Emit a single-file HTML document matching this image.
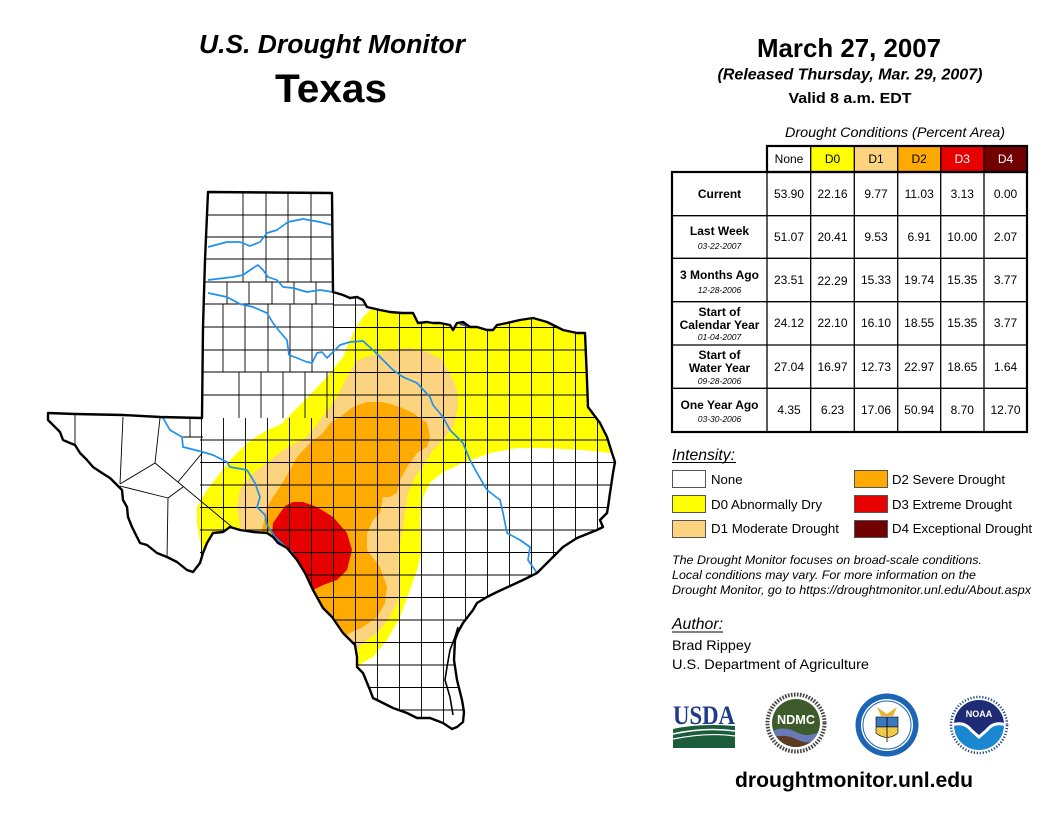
<!DOCTYPE html>
<html><head><meta charset="utf-8"><style>
html,body{margin:0;padding:0;background:#fff;}
svg{display:block;}
text{font-family:"Liberation Sans",Arial,sans-serif;}
</style></head><body>
<svg width="1056" height="816" viewBox="0 0 1056 816" xmlns="http://www.w3.org/2000/svg">
<defs>
<clipPath id="tx"><path id="txp" d="M48,413 L75,414 L123,415 L160,417 L202,418 L203,327 L205,260 L208,192 L332,193 L333,292 L343,295 L350,298 L357,297 L363,300 L367,307 L380,310 L390,312 L402,313 L413,313 L418,323 L427,322 L433,323 L440,323 L450,325 L453,330 L457,323 L463,322 L470,327 L477,327 L487,330 L493,330 L497,325 L507,323 L520,320 L533,318 L547,322 L557,327 L563,330 L577,333 L585,333 L587,380 L588,407 L600,423 L607,437 L612,453 L615,462 L613,473 L610,493 L608,507 L607,513 L600,520 L603,527 L597,530 L577,538 L563,547 L550,560 L537,573 L523,580 L510,586 L497,592 L487,597 L477,603 L473,610 L463,623 L458,632 L455,640 L454,660 L457,680 L462,700 L464,712 L463,722 L457,727 L452,729 L443,723 L430,718 L417,718 L407,713 L393,708 L383,703 L373,698 L370,690 L363,673 L357,667 L357,657 L355,645 L350,640 L343,633 L332,617 L323,608 L313,590 L305,573 L297,560 L287,548 L278,543 L273,537 L267,533 L253,532 L240,530 L230,527 L223,532 L213,533 L207,543 L203,553 L200,563 L193,572 L187,570 L177,562 L167,557 L157,553 L147,545 L140,543 L137,537 L132,527 L128,517 L127,507 L123,500 L122,490 L117,485 L110,478 L102,473 L93,467 L87,460 L80,453 L75,445 L70,443 L63,440 L60,432 L53,425 L48,420 Z"/></clipPath>
<pattern id="cty" x="333" y="282" width="22" height="22.5" patternUnits="userSpaceOnUse"><path d="M0,0.5H22M0.5,0V22.5" stroke="#000" stroke-width="0.9" fill="none"/></pattern>
<clipPath id="ndc"><circle cx="796" cy="723" r="24"/></clipPath>
<clipPath id="noc"><circle cx="979" cy="725" r="25"/></clipPath>
</defs>

<!-- Titles -->
<text x="332" y="53" font-size="25.5" font-weight="bold" font-style="italic" text-anchor="middle" textLength="266" lengthAdjust="spacingAndGlyphs">U.S. Drought Monitor</text>
<text x="331" y="102" font-size="40" font-weight="bold" text-anchor="middle" textLength="112" lengthAdjust="spacingAndGlyphs">Texas</text>
<text x="849" y="57" font-size="26" font-weight="bold" text-anchor="middle" textLength="184" lengthAdjust="spacingAndGlyphs">March 27, 2007</text>
<text x="850" y="79.5" font-size="15.5" font-weight="bold" font-style="italic" text-anchor="middle" textLength="265" lengthAdjust="spacingAndGlyphs">(Released Thursday, Mar. 29, 2007)</text>
<text x="850" y="103" font-size="15" font-weight="bold" text-anchor="middle" textLength="123" lengthAdjust="spacingAndGlyphs">Valid 8 a.m. EDT</text>

<!-- Map -->
<g clip-path="url(#tx)">
<rect x="0" y="180" width="640" height="560" fill="#fff"/>
<path fill="#FFFF00" d="M203,600 L203,560 L197,523 L197,507 L207,490 L220,473 L233,457 L247,443 L267,430 L280,425 L305,400 L327,377 L343,357 L353,333 L363,317 L375,305 L380,270 L660,270 L660,453 L610,453 L583,450 L543,448 L517,448 L490,453 L463,463 L443,472 L430,483 L423,497 L420,520 L422,550 L417,570 L410,590 L400,617 L387,640 L373,657 L362,663 L340,690 L200,700 Z"/>
<path fill="#FCD37F" d="M240,560 L240,527 L237,507 L240,490 L253,473 L267,463 L283,450 L307,437 L320,420 L330,407 L337,397 L347,377 L357,360 L373,355 L390,350 L410,348 L427,352 L440,358 L450,373 L457,390 L458,407 L453,427 L443,440 L433,450 L425,463 L415,477 L408,493 L405,513 L402,533 L398,547 L398,567 L400,583 L397,603 L388,620 L377,633 L363,643 L357,650 L340,665 L240,610 Z"/>
<path fill="#FFAA00" d="M262,560 L262,530 L267,507 L273,497 L280,487 L290,470 L297,457 L310,443 L323,433 L330,423 L340,417 L353,407 L367,402 L383,402 L400,407 L413,413 L427,423 L430,437 L427,447 L417,453 L407,467 L400,480 L397,493 L390,497 L383,497 L380,513 L373,520 L367,533 L367,550 L380,567 L387,587 L385,603 L377,617 L363,627 L350,633 L330,645 L262,605 Z"/>
<path fill="#E60000" d="M270,560 L273,523 L280,513 L285,506 L293,502 L303,502 L317,507 L333,517 L347,533 L352,550 L347,570 L337,580 L323,585 L313,590 L300,600 Z"/>
<rect x="333" y="280" width="290" height="460" fill="url(#cty)"/>
<rect x="200" y="418" width="133" height="322" fill="url(#cty)"/>
<g stroke="#000" stroke-width="0.9" fill="none">
<path d="M203,215H333M203,237H333M203,259H333M203,282H333M203,304H333M203,327H333M203,350H333M203,372H333M203,395H333"/>
<path d="M243,192V282M266,192V282M288,192V282M311,192V282"/>
<path d="M227,282V304M249,282V304M272,282V304M294,282V304M316,282V304"/>
<path d="M223,304V372M245,304V372M268,304V372M290,304V372M312,304V372"/>
<path d="M239,372V418M261,372V418M283,372V418M305,372V418M327,372V418"/>
<path d="M75,415L75,445M123,417L120,484M160,418L155,463M155,463L120,484M155,463L232,527M178,482L203,452M120,486L168,498M168,498L183,487M168,498L167,558M190,418L190,437M183,437L203,437"/>
</g>
<path d="M458,319 L465,317 L470,321 L477,320 L476,326 L468,327 L460,325 Z" fill="#3050c8"/>
<g stroke="#1E90F0" stroke-width="1.7" fill="none" stroke-linejoin="round">
<path d="M208,247 L227,242 L240,242 L250,246 L260,242 L267,233 L277,230 L288,222 L303,219 L320,222 L332,225"/>
<path d="M208,280 L233,277 L243,275 L253,268 L258,265 L263,270 L268,277 L277,280 L283,287 L293,288 L307,292 L320,290 L333,292"/>
<path d="M208,293 L227,297 L240,304 L253,307 L267,313 L273,323 L280,332 L287,340 L289,355 L297,358 L307,362 L312,363 L317,353 L322,352 L327,358 L333,352 L340,345 L350,342 L363,341 L373,350 L383,360 L393,370 L403,377 L417,383 L430,397 L433,405 L443,417 L450,430 L463,443 L470,460 L477,473 L487,490 L500,500 L503,513 L507,533 L520,540 L530,547 L528,560 L537,573"/>
<path d="M163,418 L170,430 L182,437 L183,447 L203,452 L213,455 L227,462 L230,467 L247,470 L255,483 L260,497 L257,507 L265,515 L267,525 L275,537 L287,548 L293,553"/>
</g>
</g>
<use href="#txp" fill="none" stroke="#000" stroke-width="2.4" stroke-linejoin="round"/>
<path d="M458,627 L455,637 L450,650 L447,667 L445,680 L450,697 L453,715" fill="none" stroke="#000" stroke-width="1.6"/>

<!-- Table -->
<text x="895" y="137" font-size="13.5" font-style="italic" text-anchor="middle" textLength="220" lengthAdjust="spacingAndGlyphs">Drought Conditions (Percent Area)</text>
<rect x="767" y="146" width="43.7" height="26" fill="#fff"/>
<rect x="810.7" y="146" width="43.6" height="26" fill="#FFFF00"/>
<rect x="854.3" y="146" width="43.4" height="26" fill="#FCD37F"/>
<rect x="897.7" y="146" width="43" height="26" fill="#FFAA00"/>
<rect x="940.7" y="146" width="43.3" height="26" fill="#E60000"/>
<rect x="984" y="146" width="43" height="26" fill="#730000"/>
<g stroke="#000" fill="none">
<rect x="767" y="146" width="260" height="26" stroke-width="2.2"/>
<rect x="672" y="172" width="355" height="260" stroke-width="2.2"/>
<path stroke-width="1.3" d="M810.7,146V432M854.3,146V432M897.7,146V432M940.7,146V432M984,146V432M767,172V432M672,215.7H1027M672,258.3H1027M672,301.7H1027M672,345H1027M672,388.3H1027"/>
</g>
<g font-size="12" text-anchor="middle">
<text x="789" y="163">None</text><text x="832.5" y="163">D0</text><text x="876" y="163">D1</text><text x="919.2" y="163">D2</text><text x="962.3" y="163" fill="#fff">D3</text><text x="1005.5" y="163" fill="#fff">D4</text>
<text x="789" y="198">53.90</text><text x="832.5" y="198">22.16</text><text x="876" y="198">9.77</text><text x="919.2" y="198">11.03</text><text x="962.3" y="198">3.13</text><text x="1005.5" y="198">0.00</text>
<text x="789" y="241">51.07</text><text x="832.5" y="241">20.41</text><text x="876" y="241">9.53</text><text x="919.2" y="241">6.91</text><text x="962.3" y="241">10.00</text><text x="1005.5" y="241">2.07</text>
<text x="789" y="284">23.51</text><text x="832.5" y="285">22.29</text><text x="876" y="284">15.33</text><text x="919.2" y="284">19.74</text><text x="962.3" y="284">15.35</text><text x="1005.5" y="284">3.77</text>
<text x="789" y="327">24.12</text><text x="832.5" y="327">22.10</text><text x="876" y="327">16.10</text><text x="919.2" y="327">18.55</text><text x="962.3" y="327">15.35</text><text x="1005.5" y="327">3.77</text>
<text x="789" y="371">27.04</text><text x="832.5" y="371">16.97</text><text x="876" y="371">12.73</text><text x="919.2" y="371">22.97</text><text x="962.3" y="371">18.65</text><text x="1005.5" y="371">1.64</text>
<text x="789" y="414">4.35</text><text x="832.5" y="414">6.23</text><text x="876" y="414">17.06</text><text x="919.2" y="414">50.94</text><text x="962.3" y="414">8.70</text><text x="1005.5" y="414">12.70</text>
</g>
<g font-size="12" font-weight="bold" text-anchor="middle">
<text x="719.5" y="198">Current</text>
<text x="719.5" y="235">Last Week</text>
<text x="719.5" y="279">3 Months Ago</text>
<text x="719.5" y="316">Start of</text>
<text x="719.5" y="329">Calendar Year</text>
<text x="719.5" y="359">Start of</text>
<text x="719.5" y="372">Water Year</text>
<text x="719.5" y="409">One Year Ago</text>
</g>
<g font-size="8.5" font-style="italic" text-anchor="middle">
<text x="719.5" y="249">03-22-2007</text>
<text x="719.5" y="293">12-28-2006</text>
<text x="719.5" y="340">01-04-2007</text>
<text x="719.5" y="384">09-28-2006</text>
<text x="719.5" y="422">03-30-2006</text>
</g>

<!-- Legend -->
<text x="672" y="460" font-size="16" font-style="italic" textLength="63" lengthAdjust="spacingAndGlyphs">Intensity:</text>
<line x1="672" y1="462.5" x2="736" y2="462.5" stroke="#000" stroke-width="1"/>
<g stroke="#555" stroke-width="1">
<rect x="672.5" y="470.5" width="33" height="17" fill="#fff"/>
<rect x="672.5" y="495.5" width="33" height="17" fill="#FFFF00"/>
<rect x="672.5" y="520.5" width="33" height="17" fill="#FCD37F"/>
<rect x="854.5" y="470.5" width="33" height="17" fill="#FFAA00"/>
<rect x="854.5" y="495.5" width="33" height="17" fill="#E60000"/>
<rect x="854.5" y="520.5" width="33" height="17" fill="#730000"/>
</g>
<g font-size="13.2">
<text x="711" y="484">None</text>
<text x="711" y="509" textLength="111" lengthAdjust="spacingAndGlyphs">D0 Abnormally Dry</text>
<text x="711" y="533" textLength="128" lengthAdjust="spacingAndGlyphs">D1 Moderate Drought</text>
<text x="892" y="484" textLength="113" lengthAdjust="spacingAndGlyphs">D2 Severe Drought</text>
<text x="892" y="509" textLength="120" lengthAdjust="spacingAndGlyphs">D3 Extreme Drought</text>
<text x="892" y="533" textLength="140" lengthAdjust="spacingAndGlyphs">D4 Exceptional Drought</text>
</g>
<g font-size="12" font-style="italic">
<text x="672" y="564" textLength="310" lengthAdjust="spacingAndGlyphs">The Drought Monitor focuses on broad-scale conditions.</text>
<text x="672" y="579" textLength="304" lengthAdjust="spacingAndGlyphs">Local conditions may vary. For more information on the</text>
<text x="672" y="594" textLength="359" lengthAdjust="spacingAndGlyphs">Drought Monitor, go to https://droughtmonitor.unl.edu/About.aspx</text>
</g>
<text x="672" y="629" font-size="16" font-style="italic" textLength="51" lengthAdjust="spacingAndGlyphs">Author:</text>
<line x1="672" y1="632" x2="723" y2="632" stroke="#000" stroke-width="1"/>
<text x="672" y="650" font-size="14" textLength="79" lengthAdjust="spacingAndGlyphs">Brad Rippey</text>
<text x="672" y="669" font-size="14" textLength="197" lengthAdjust="spacingAndGlyphs">U.S. Department of Agriculture</text>

<!-- Logos -->
<text x="673" y="724" font-weight="bold" font-size="26" fill="#1f3b87" textLength="62" lengthAdjust="spacingAndGlyphs" style="font-family:'Liberation Serif',serif">USDA</text>
<path d="M673,729 Q700,723 735,726 L735,748 L673,748 Z" fill="#1b5c3a"/>
<path d="M673,734 Q705,727 735,731" stroke="#fff" stroke-width="1.5" fill="none"/>
<path d="M673,739 Q708,732 735,736" stroke="#fff" stroke-width="1.2" fill="none"/>

<circle cx="796" cy="723" r="31" fill="#fff"/>
<circle cx="796" cy="723" r="28.5" fill="none" stroke="#444" stroke-width="4" stroke-dasharray="1.6 1.4"/>
<circle cx="796" cy="723" r="24" fill="#3d5b2b"/>
<g clip-path="url(#ndc)">
<path d="M770,732 Q783,725 796,732 Q809,739 822,730 L822,750 L770,750 Z" fill="#6a78b8"/>
<path d="M770,738 Q785,733 798,740 Q810,746 822,737 L822,750 L770,750 Z" fill="#5b3b22"/>
</g>
<text x="796" y="724" font-size="13" font-weight="bold" fill="#fff" text-anchor="middle" textLength="38" lengthAdjust="spacingAndGlyphs">NDMC</text>

<circle cx="887" cy="725" r="31.5" fill="#1c64b4"/>
<circle cx="887" cy="725" r="26" fill="#fff"/>
<circle cx="887" cy="725" r="24" fill="none" stroke="#1c64b4" stroke-width="1"/>
<path d="M877,707 L887,714 L897,707 L893,716 L881,716 Z" fill="#e8b530"/>
<rect x="876" y="717" width="22" height="10" fill="#3a78c0" stroke="#000" stroke-width="0.6"/>
<path d="M876,727 L898,727 L898,733 Q887,742 876,733 Z" fill="#f2c84b" stroke="#000" stroke-width="0.6"/>
<line x1="887" y1="717" x2="887" y2="742" stroke="#000" stroke-width="0.8"/>

<circle cx="979" cy="725" r="30" fill="#fff"/>
<circle cx="979" cy="725" r="28" fill="none" stroke="#1c3f8a" stroke-width="2.5" stroke-dasharray="1.2 1.8"/>
<circle cx="979" cy="725" r="25" fill="#1a87d0"/>
<g clip-path="url(#noc)">
<path d="M952,725 A27,27 0 0 1 1006,725 Q994,721 987,730 L979,737 L971,730 Q964,721 952,725 Z" fill="#1f2b75"/>
<path d="M952,725 Q964,721 971,730 L979,737 L987,730 Q994,721 1006,725" fill="none" stroke="#fff" stroke-width="3"/>
</g>
<text x="979" y="717" font-size="9" font-weight="bold" fill="#fff" text-anchor="middle">NOAA</text>

<text x="854" y="787" font-size="21" font-weight="bold" text-anchor="middle" textLength="238" lengthAdjust="spacingAndGlyphs">droughtmonitor.unl.edu</text>
</svg>
</body></html>
